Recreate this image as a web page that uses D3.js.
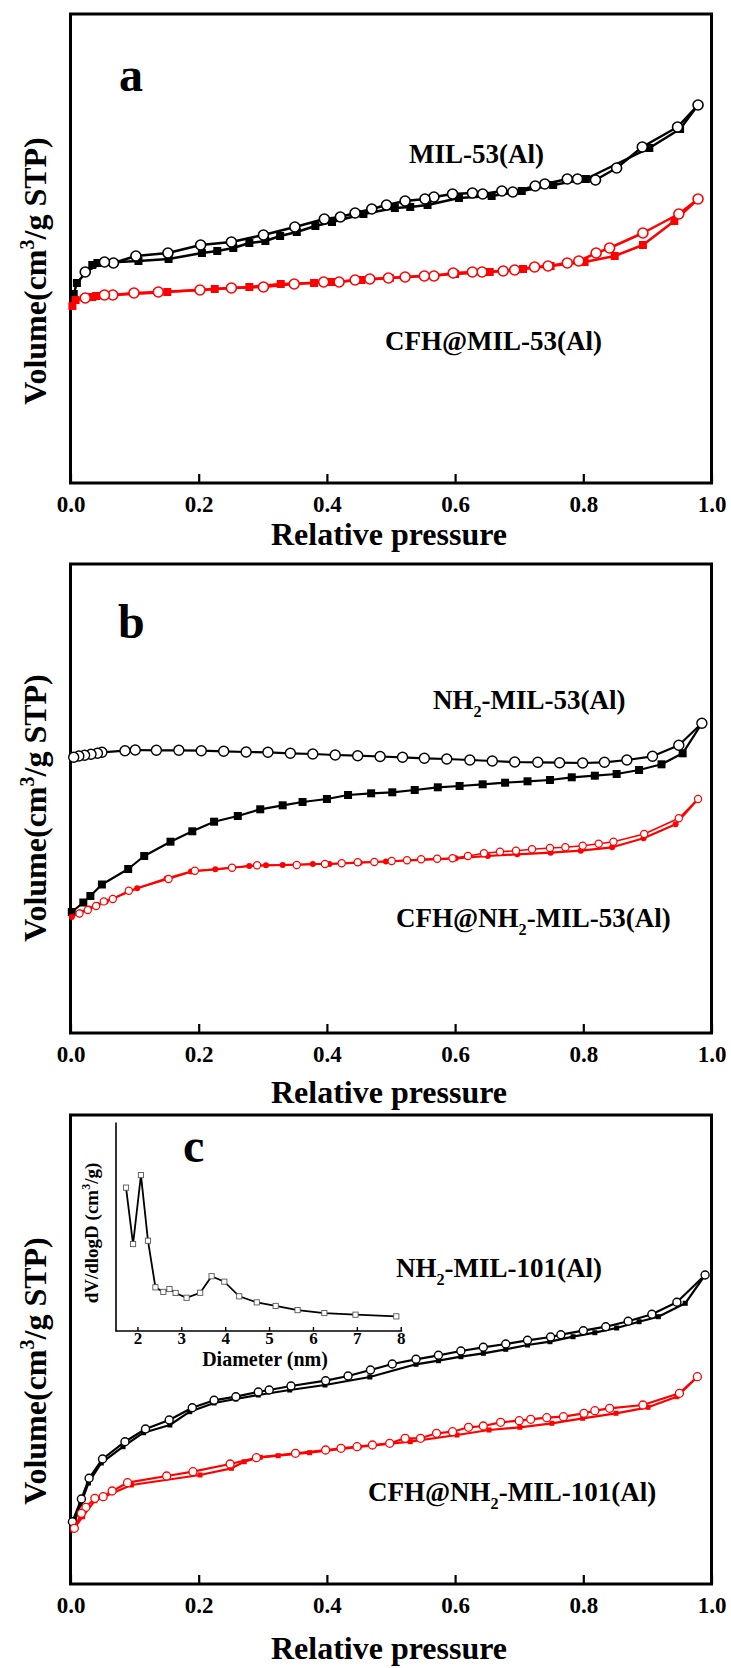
<!DOCTYPE html>
<html>
<head>
<meta charset="utf-8">
<script src="https://cdn.jsdelivr.net/npm/d3@7"></script>
<style>
  html, body { margin: 0; padding: 0; background: #fff; }
  svg { display: block; }
  text { font-family: "Liberation Serif", "Times New Roman", serif; font-weight: bold; }
</style>
</head>
<body>
<svg id="chart" width="731" height="1668"></svg>
<script>
// Relative pressure ticks shared by the three isotherm panels
const pressureTicks = [0, 0.2, 0.4, 0.6, 0.8, 1.0];

// (a) MIL-53(Al): adsorption (filled squares) and desorption (open circles)
const mil53Ads = [[0.005,189],[0.010,200],[0.034,218],[0.042,220],[0.106,222],[0.153,224],[0.205,230],[0.229,232],[0.254,235],[0.279,240],[0.304,242],[0.327,247],[0.353,251],[0.382,257],[0.408,261],[0.457,269],[0.506,275],[0.530,276],[0.557,278],[0.606,285],[0.657,287],[0.704,292],[0.753,298],[0.804,304],[0.903,335],[0.951,354],[0.979,378]];
const mil53Des = [[0.979,378],[0.947,356],[0.892,336],[0.852,315],[0.819,303],[0.791,304],[0.775,304],[0.740,299],[0.725,297],[0.690,291],[0.673,292],[0.643,289],[0.627,290],[0.596,289],[0.567,286],[0.553,284],[0.522,282],[0.493,278],[0.470,274],[0.444,270],[0.421,266],[0.396,264],[0.350,256],[0.301,248],[0.251,241],[0.203,238],[0.152,230],[0.102,227],[0.067,220],[0.053,221],[0.023,211]];
// (a) CFH@MIL-53(Al)
const cfhMil53Ads = [[0.003,177],[0.008,183],[0.034,186],[0.040,187],[0.151,191],[0.225,194],[0.279,196],[0.328,199],[0.380,200],[0.408,201],[0.454,203],[0.498,205],[0.600,209],[0.654,211],[0.706,214],[0.749,217],[0.802,221],[0.849,227],[0.893,238],[0.942,262],[0.979,284]];
const cfhMil53Des = [[0.979,284],[0.949,269],[0.893,250],[0.841,235],[0.820,230],[0.793,222],[0.775,220],[0.745,217],[0.724,216],[0.693,213],[0.675,212],[0.642,211],[0.627,211],[0.597,210],[0.567,207],[0.552,207],[0.522,206],[0.496,205],[0.467,204],[0.444,203],[0.419,201],[0.395,201],[0.349,199],[0.301,196],[0.251,195],[0.202,193],[0.137,191],[0.099,190],[0.066,188],[0.053,188],[0.023,185]];

// (b) NH2-MIL-53(Al)
const nh2Mil53Ads = [[0.002,121],[0.020,130.5],[0.031,137],[0.049,148.5],[0.090,164],[0.115,177],[0.156,191.3],[0.190,201.7],[0.224,211.3],[0.261,217],[0.296,223.7],[0.331,227.7],[0.362,231],[0.400,234],[0.433,238],[0.469,239.7],[0.502,240.7],[0.537,243],[0.573,245.7],[0.607,247],[0.643,248.7],[0.678,250.3],[0.713,251.7],[0.748,253],[0.782,255.7],[0.818,257.3],[0.852,259],[0.887,263],[0.922,268.7],[0.955,279.7],[0.985,309.7]];
const nh2Mil53Des = [[0.985,309.7],[0.949,287.7],[0.908,276.7],[0.868,273],[0.833,270.7],[0.799,270],[0.763,270.3],[0.729,270.7],[0.693,271],[0.658,272],[0.623,273],[0.587,274],[0.552,274.7],[0.518,275.7],[0.483,276.5],[0.448,277.3],[0.413,278],[0.378,279],[0.343,279.7],[0.308,280.7],[0.274,281],[0.239,281.7],[0.204,282.3],[0.169,282.7],[0.134,282.7],[0.101,283],[0.085,282.3],[0.049,280.7],[0.042,279.7],[0.032,278.7],[0.022,277.7],[0.013,277],[0.005,275.7]];
// (b) CFH@NH2-MIL-53(Al)
const cfhNh2Mil53Ads = [[0.002,116],[0.015,120.5],[0.029,124.4],[0.042,128],[0.055,131.6],[0.104,144.7],[0.150,154.5],[0.188,161.5],[0.226,163.7],[0.279,167],[0.305,167.7],[0.331,168],[0.378,169],[0.404,169],[0.451,170.3],[0.492,171.5],[0.601,174.7],[0.651,177],[0.697,178.7],[0.749,180.3],[0.796,182.3],[0.845,185.7],[0.894,194.7],[0.944,208.7],[0.979,234]];
const cfhNh2Mil53Des = [[0.979,234],[0.949,214.7],[0.895,199],[0.847,191.3],[0.824,189.3],[0.799,187.3],[0.772,185.7],[0.748,185],[0.720,183.7],[0.695,182.3],[0.670,181.3],[0.645,179.7],[0.620,177],[0.596,174.7],[0.572,174.3],[0.547,173.7],[0.525,172.7],[0.501,172],[0.474,171],[0.448,170.7],[0.423,169.7],[0.397,169],[0.353,168],[0.291,167.7],[0.252,165.3],[0.194,162.3],[0.153,154],[0.091,142.3],[0.066,134],[0.052,131.6],[0.040,127],[0.027,123],[0.014,119.5]];

// (c) NH2-MIL-101(Al)
const nh2Mil101Ads = [[0.004,57.3],[0.016,80],[0.028,101],[0.048,121],[0.082,137.3],[0.114,151.3],[0.155,159],[0.186,172.3],[0.224,181],[0.258,185],[0.293,189],[0.342,194],[0.397,199],[0.467,207],[0.539,219.7],[0.574,223.3],[0.609,227.3],[0.644,230.7],[0.679,234.7],[0.713,239],[0.748,242.3],[0.784,247.3],[0.818,251.3],[0.852,256],[0.887,262.3],[0.917,267.3],[0.959,280.7],[0.990,309]];
const nh2Mil101Des = [[0.990,309],[0.946,281.7],[0.907,269.7],[0.870,262.7],[0.835,257.3],[0.800,253.3],[0.765,249.3],[0.749,247],[0.713,243.7],[0.679,240],[0.644,236.7],[0.609,233],[0.574,228.7],[0.539,224.7],[0.502,220],[0.468,214],[0.433,208],[0.398,203.3],[0.344,198],[0.310,194],[0.293,192],[0.258,187.3],[0.224,183.7],[0.190,176.3],[0.154,164],[0.117,155],[0.085,142.3],[0.050,125],[0.029,105.7],[0.017,85],[0.003,62.3]];
// (c) CFH@NH2-MIL-101(Al)
const cfhNh2Mil101Ads = [[0.004,54],[0.019,67.3],[0.038,83.3],[0.095,99],[0.202,109],[0.251,115.7],[0.271,122.3],[0.296,126.7],[0.324,128.3],[0.373,131.3],[0.450,137],[0.530,142.3],[0.603,149],[0.653,154],[0.701,156.7],[0.751,160.7],[0.799,165.7],[0.851,170.7],[0.901,176.7],[0.946,187.3],[0.978,207.3]];
const cfhNh2Mil101Des = [[0.978,207.3],[0.950,190.7],[0.893,179],[0.841,175.7],[0.818,173.3],[0.801,170.7],[0.769,167.3],[0.743,166.3],[0.718,164.7],[0.700,163.3],[0.671,161.7],[0.644,158],[0.621,156.7],[0.596,152.3],[0.571,150.7],[0.546,145.7],[0.522,145.7],[0.498,140.7],[0.471,139],[0.447,137.3],[0.422,135.7],[0.398,134],[0.351,130.7],[0.290,126.3],[0.249,120],[0.191,112.3],[0.150,108],[0.089,101.3],[0.065,93],[0.051,87.3],[0.038,85.7],[0.024,76.7],[0.017,70.7],[0.006,55.7]];

// (c, inset) pore size distribution of NH2-MIL-101(Al)
const diameterTicks = [2, 3, 4, 5, 6, 7, 8];
const poreDiameter = [1.74, 1.90, 2.08, 2.24, 2.41, 2.59, 2.73, 2.87, 3.12, 3.43, 3.69, 3.98, 4.32, 4.72, 5.15, 5.65, 6.26, 6.97, 7.90];
const poreVolume   = [68.6, 41.6, 74.6, 43.2, 20.9, 18.7, 20.1, 18.2, 15.9, 18.3, 26.2, 23.6, 16.6, 13.7, 12.0, 10.0, 8.6, 7.8, 7.0];

const RED = "#ff0000";
const BLACK = "#000000";

const svg = d3.select("#chart");
svg.append("rect").attr("width", 731).attr("height", 1668).attr("fill", "#fff");

const frameLeft = 70.5, frameRight = 711.5, frameHeight = 469;

function drawSeries(g, x, y, data, opt) {
  const line = d3.line().x(d => x(d[0])).y(d => y(d[1]));
  g.append("path").datum(data)
    .attr("fill", "none").attr("stroke", opt.color)
    .attr("stroke-width", opt.lineWidth).attr("stroke-linejoin", "round")
    .attr("d", line);
  const m = g.append("g");
  if (opt.marker === "square") {
    const s = opt.size;
    m.selectAll("rect").data(data).join("rect")
      .attr("x", d => x(d[0]) - s / 2).attr("y", d => y(d[1]) - s / 2)
      .attr("width", s).attr("height", s)
      .attr("fill", opt.color);
  } else if (opt.marker === "dot") {
    m.selectAll("circle").data(data).join("circle")
      .attr("cx", d => x(d[0])).attr("cy", d => y(d[1]))
      .attr("r", opt.size).attr("fill", opt.color);
  } else {
    m.selectAll("circle").data(data).join("circle")
      .attr("cx", d => x(d[0])).attr("cy", d => y(d[1]))
      .attr("r", opt.size).attr("fill", "#fff")
      .attr("stroke", opt.color).attr("stroke-width", opt.strokeWidth);
  }
}

// Sample name with an optional lowered "2" (NH2); text after it returns to the baseline
function labelWithSub(g, x, y, parts, size) {
  const t = g.append("text").attr("x", x).attr("y", y)
    .attr("font-size", size).attr("fill", BLACK);
  const drop = size * 0.3;
  let lowered = false;
  parts.forEach(p => {
    if (p.sub) {
      t.append("tspan").attr("font-size", size * 0.6).attr("dy", drop).text(p.sub);
      lowered = true;
    } else {
      const s = t.append("tspan").text(p.text);
      if (lowered) { s.attr("dy", -drop); lowered = false; }
    }
  });
  return t;
}

function panel(cfg) {
  const top = cfg.top, bottom = top + frameHeight;
  const g = svg.append("g");
  const x = d3.scaleLinear().domain([0, 1]).range([frameLeft, frameRight]);
  const y = d3.scaleLinear().domain([0, 470]).range([bottom, bottom - 470]);

  // bottom axis: inward ticks, labels below
  const axis = g.append("g").attr("transform", `translate(0,${bottom})`)
    .call(d3.axisBottom(x).tickValues(pressureTicks)
      .tickFormat(d3.format(".1f")).tickSizeInner(-9).tickSizeOuter(0));
  axis.select(".domain").remove();
  axis.selectAll(".tick line").attr("stroke", BLACK).attr("stroke-width", 2.2);
  axis.selectAll(".tick text")
    .attr("y", cfg.tickLabelDy).attr("dy", 0)
    .attr("font-size", 23).attr("font-family", "Liberation Serif")
    .attr("font-weight", "bold").attr("fill", BLACK);

  // frame
  g.append("rect").attr("x", frameLeft).attr("y", top)
    .attr("width", frameRight - frameLeft).attr("height", frameHeight)
    .attr("fill", "none").attr("stroke", BLACK).attr("stroke-width", 3);

  // axis titles
  g.append("text").attr("x", 389).attr("y", bottom + cfg.xTitleDy)
    .attr("text-anchor", "middle").attr("font-size", 32).text("Relative pressure");
  const yl = g.append("text")
    .attr("transform", `translate(46,${cfg.yTitleY}) rotate(-90)`)
    .attr("text-anchor", "middle").attr("font-size", 32);
  yl.append("tspan").text("Volume(cm");
  yl.append("tspan").attr("font-size", 20).attr("dy", -12).text("3");
  yl.append("tspan").attr("dy", 12).text("/g STP)");

  // panel letter
  g.append("text").attr("x", cfg.letterX).attr("y", cfg.letterY)
    .attr("font-size", 48).text(cfg.letter);

  const plot = g.append("g");
  cfg.series.forEach(s => drawSeries(plot, x, y, s.data, s));

  cfg.labels.forEach(l => labelWithSub(g, l.x, l.y, l.parts, 27));
  return g;
}

// Panel a
panel({
  top: 14, letter: "a", letterX: 119, letterY: 91,
  tickLabelDy: 29, xTitleDy: 62, yTitleY: 271,
  series: [
    { data: mil53Ads, color: BLACK, marker: "square", size: 8, lineWidth: 2.5 },
    { data: mil53Des, color: BLACK, marker: "circle", size: 5, strokeWidth: 1.6, lineWidth: 2.5 },
    { data: cfhMil53Ads, color: RED, marker: "square", size: 8, lineWidth: 2.5 },
    { data: cfhMil53Des, color: RED, marker: "circle", size: 5, strokeWidth: 1.6, lineWidth: 2.5 }
  ],
  labels: [
    { x: 409, y: 163, parts: [{ text: "MIL-53(Al)" }] },
    { x: 385, y: 350, parts: [{ text: "CFH@MIL-53(Al)" }] }
  ]
});

// Panel b
panel({
  top: 564, letter: "b", letterX: 118, letterY: 638,
  tickLabelDy: 29, xTitleDy: 70, yTitleY: 808,
  series: [
    { data: nh2Mil53Ads, color: BLACK, marker: "square", size: 8, lineWidth: 2.2 },
    { data: nh2Mil53Des, color: BLACK, marker: "circle", size: 5, strokeWidth: 1.4, lineWidth: 2.2 },
    { data: cfhNh2Mil53Ads, color: RED, marker: "dot", size: 3, lineWidth: 2.2 },
    { data: cfhNh2Mil53Des, color: RED, marker: "circle", size: 3.6, strokeWidth: 1.2, lineWidth: 1.6 }
  ],
  labels: [
    { x: 433, y: 709, parts: [{ text: "NH" }, { sub: "2" }, { text: "-MIL-53(Al)" }] },
    { x: 396, y: 927, parts: [{ text: "CFH@NH" }, { sub: "2" }, { text: "-MIL-53(Al)" }] }
  ]
});

// Panel c
panel({
  top: 1115, letter: "c", letterX: 183, letterY: 1162,
  tickLabelDy: 29, xTitleDy: 75, yTitleY: 1371,
  series: [
    { data: nh2Mil101Ads, color: BLACK, marker: "square", size: 5, lineWidth: 2.2 },
    { data: nh2Mil101Des, color: BLACK, marker: "circle", size: 4, strokeWidth: 1.4, lineWidth: 2.2 },
    { data: cfhNh2Mil101Ads, color: RED, marker: "square", size: 5, lineWidth: 2.2 },
    { data: cfhNh2Mil101Des, color: RED, marker: "circle", size: 4, strokeWidth: 1.3, lineWidth: 2.2 }
  ],
  labels: [
    { x: 396, y: 1277, parts: [{ text: "NH" }, { sub: "2" }, { text: "-MIL-101(Al)" }] },
    { x: 368, y: 1501, parts: [{ text: "CFH@NH" }, { sub: "2" }, { text: "-MIL-101(Al)" }] }
  ]
});

// Inset: pore size distribution
const inset = svg.append("g");
const dx = d3.scaleLinear().domain([1.5, 8]).range([115.5, 400.7]);
const dy = d3.scaleLinear().domain([0, 100]).range([1331, 1122]);
const ix = inset.append("g").attr("transform", "translate(0,1331)")
  .call(d3.axisBottom(dx).tickValues(diameterTicks).tickFormat(d3.format("d"))
    .tickSizeInner(-4).tickSizeOuter(0));
ix.select(".domain").attr("stroke", BLACK).attr("stroke-width", 1.6)
  .attr("d", `M${dx(1.5)},0H${dx(8) + 1.5}`);
ix.selectAll(".tick line").attr("stroke", BLACK).attr("stroke-width", 1.4);
ix.selectAll(".tick text").attr("y", 13).attr("dy", 0)
  .attr("font-size", 17).attr("font-family", "Liberation Serif")
  .attr("font-weight", "bold").attr("fill", BLACK);
const iy = inset.append("g").attr("transform", `translate(${dx(1.5)},0)`)
  .call(d3.axisLeft(dy).tickValues([]).tickSizeOuter(0));
iy.select(".domain").attr("stroke", BLACK).attr("stroke-width", 1.6);

inset.append("text").attr("x", 265).attr("y", 1366)
  .attr("text-anchor", "middle").attr("font-size", 20).text("Diameter (nm)");
const iyl = inset.append("text")
  .attr("transform", "translate(98,1233) rotate(-90)")
  .attr("text-anchor", "middle").attr("font-size", 19);
iyl.append("tspan").text("dV/dlogD (cm");
iyl.append("tspan").attr("font-size", 12).attr("dy", -8).text("3");
iyl.append("tspan").attr("dy", 8).text("/g)");

const pore = poreDiameter.map((d, i) => [d, poreVolume[i]]);
inset.append("path").datum(pore)
  .attr("fill", "none").attr("stroke", BLACK).attr("stroke-width", 1.8)
  .attr("d", d3.line().x(d => dx(d[0])).y(d => dy(d[1])));
inset.selectAll("rect.pt").data(pore).join("rect").attr("class", "pt")
  .attr("x", d => dx(d[0]) - 2.6).attr("y", d => dy(d[1]) - 2.6)
  .attr("width", 5.2).attr("height", 5.2)
  .attr("fill", "#fff").attr("stroke", "#555").attr("stroke-width", 0.9);
</script>
</body>
</html>
